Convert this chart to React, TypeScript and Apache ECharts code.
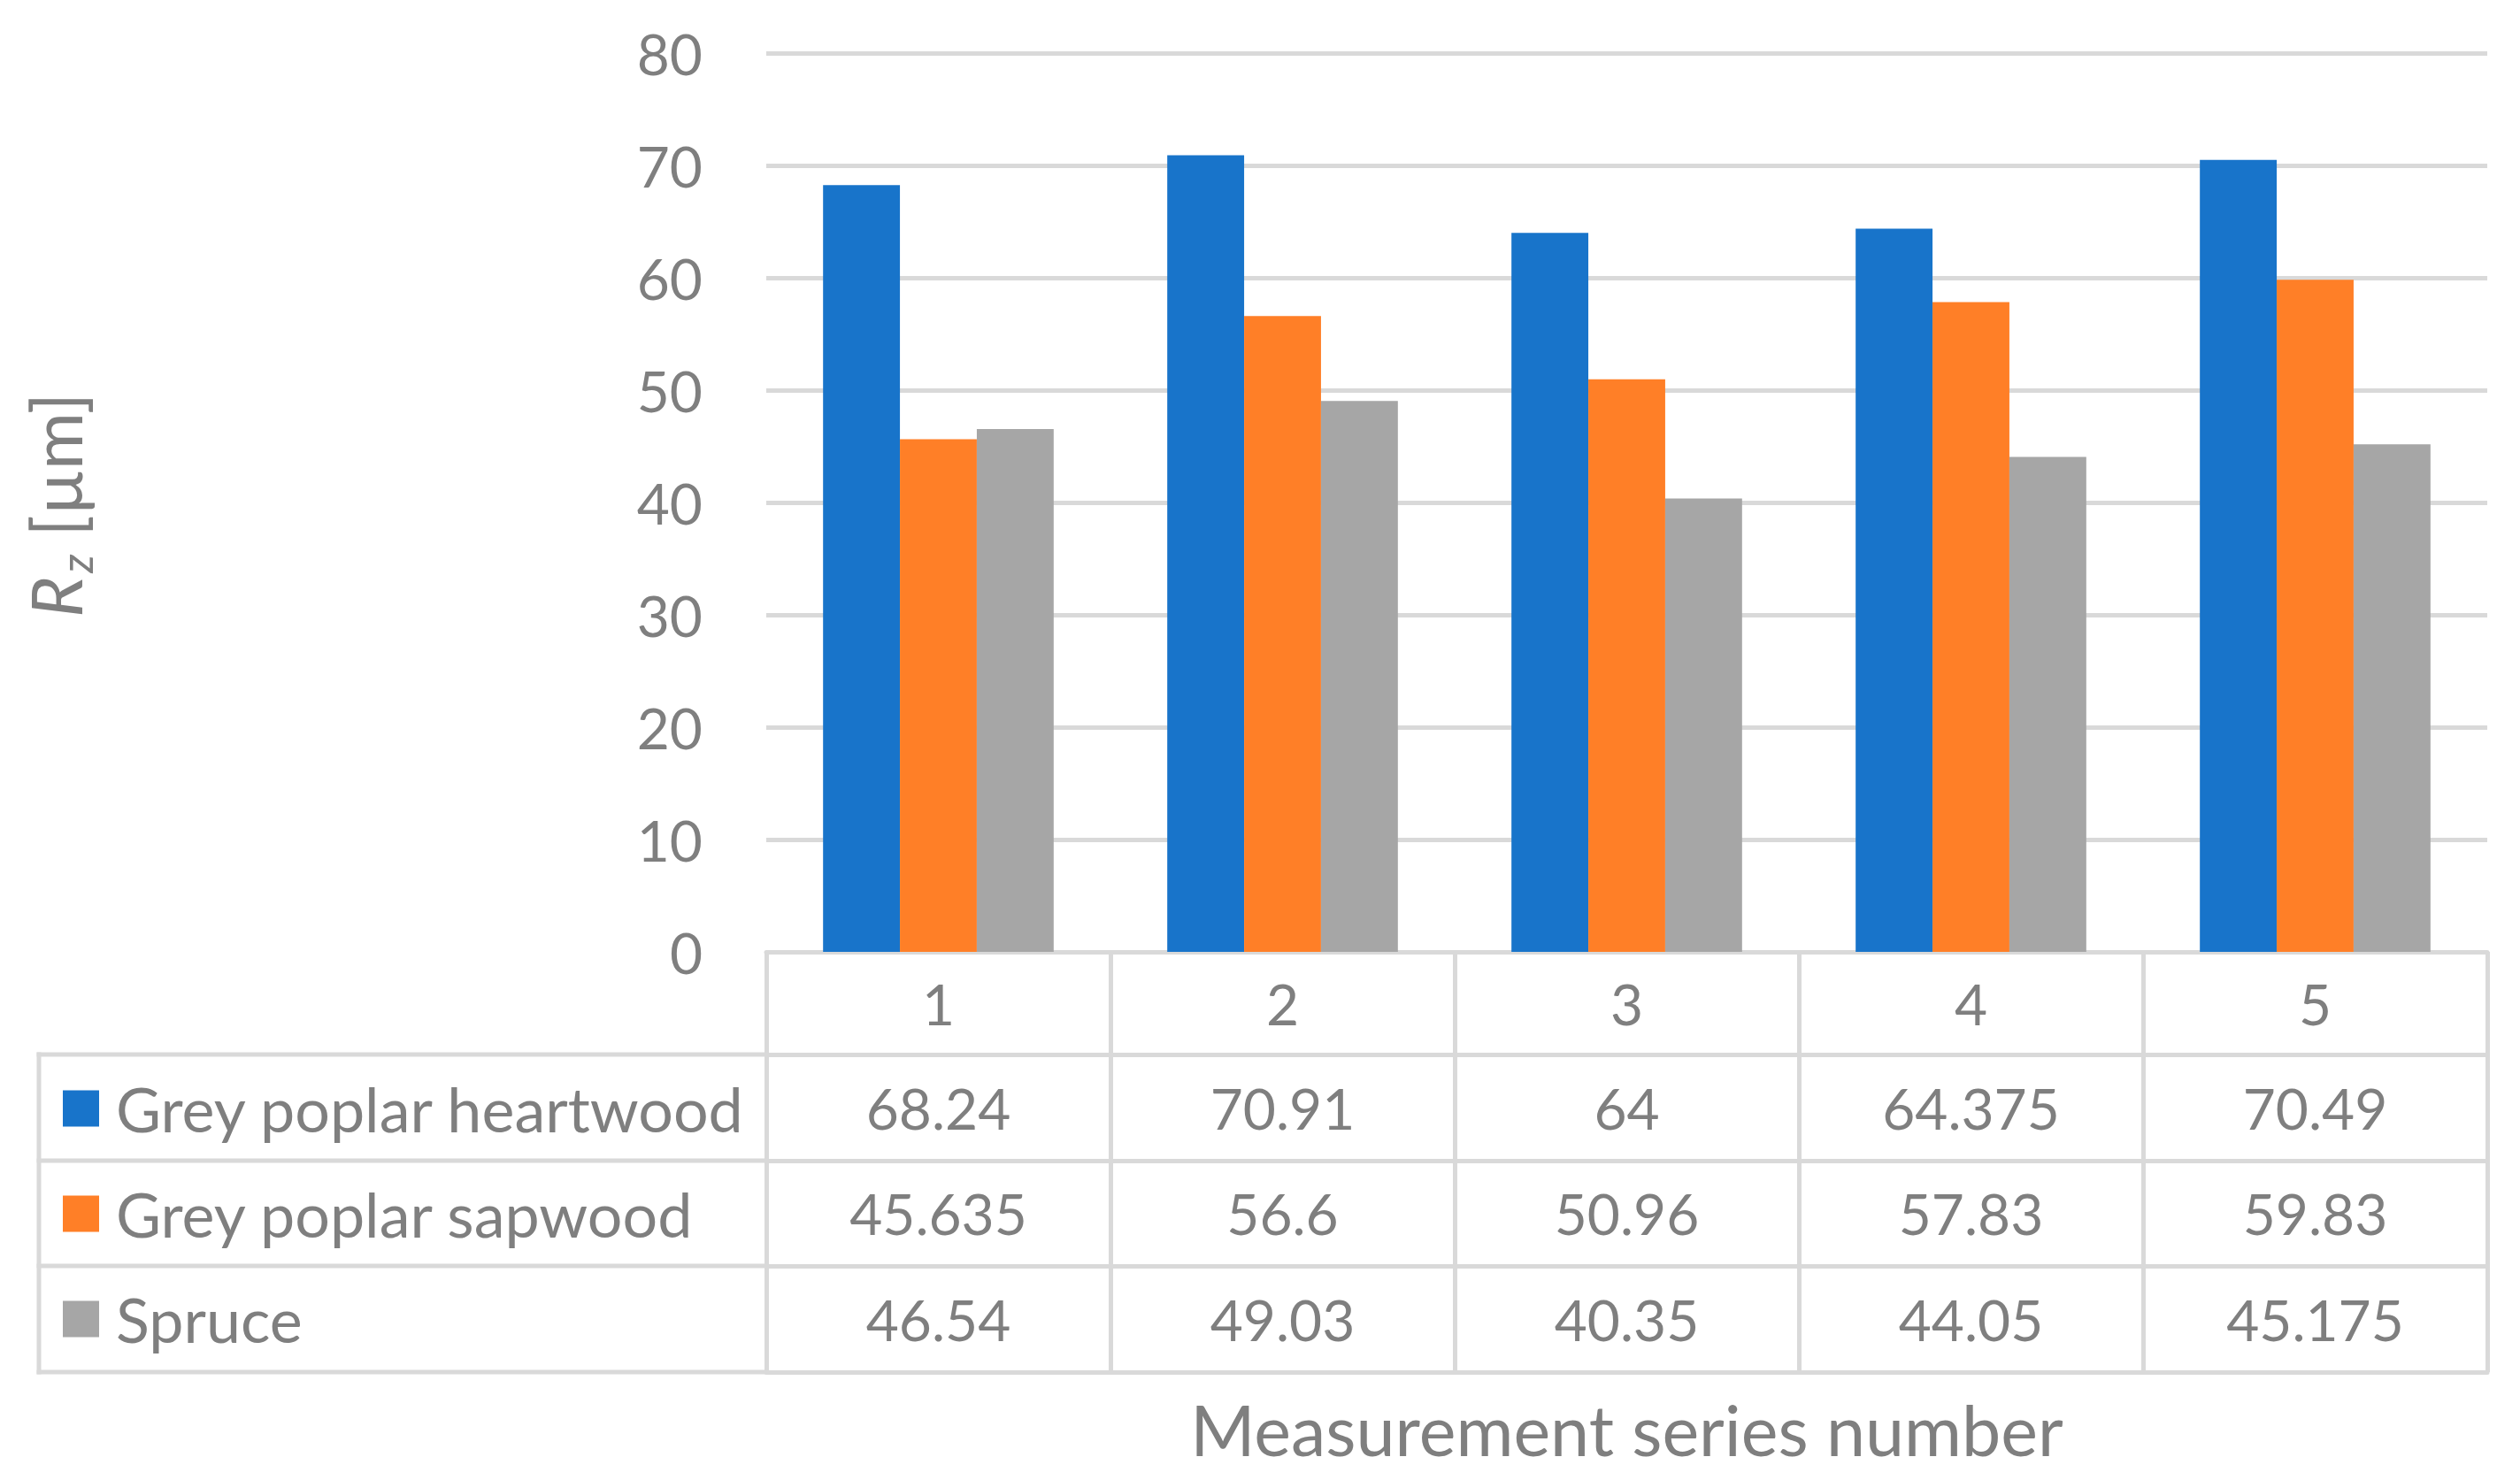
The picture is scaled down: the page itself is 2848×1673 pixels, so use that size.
import React, { useEffect, useRef } from "react";
import * as echarts from "echarts";

const categories = ["1", "2", "3", "4", "5"];
const seriesNames = ["Grey poplar heartwood", "Grey poplar sapwood", "Spruce"];
const heartwood = [68.24, 70.91, 64, 64.375, 70.49];
const sapwood = [45.635, 56.6, 50.96, 57.83, 59.83];
const spruce = [46.54, 49.03, 40.35, 44.05, 45.175];
const colors = ["#1874CA", "#FF7F27", "#A6A6A6"];
const yTicks = { min: 0, max: 80, interval: 10 };

const FONT = "Lato";
const TEXT = "#7F7F7F";
const LINE = "#D9D9D9";

export default function App() {
  const ref = useRef<HTMLDivElement>(null);
  useEffect(() => {
    if (!ref.current) return;
    const chart = echarts.init(ref.current, undefined, { renderer: "svg" });
    const H = 1673;
    const gridLeft = 866;
    const gridRight = 37;
    const gridTop = 60;
    const gridBottomY = 1076;
    const rowOffsets = [116, 236, 355, 475];
    const tableLeft = 44;
    const rowsData = [heartwood, sapwood, spruce];

    const lineStyle = { color: LINE, width: 5 };

    const xAxes: any[] = [
      {
        type: "category",
        data: categories,
        position: "bottom",
        axisLine: { show: true, lineStyle },
        axisTick: { show: true, alignWithLabel: false, interval: 0, length: rowOffsets[3], lineStyle },
        axisLabel: { fontSize: 64, color: TEXT, fontFamily: FONT, margin: 58, verticalAlign: "middle" },
        splitLine: { show: false },
      },
    ];
    rowsData.forEach((vals, r) => {
      const prev = rowOffsets[r];
      const next = rowOffsets[r + 1];
      xAxes.push({
        type: "category",
        data: categories,
        position: "bottom",
        offset: prev,
        axisLine: { show: true, lineStyle },
        axisTick: { show: false },
        axisLabel: {
          fontSize: 64,
          color: TEXT,
          fontFamily: FONT,
          margin: (next - prev) / 2,
          verticalAlign: "middle",
          interval: 0,
          formatter: (_v: string, idx: number) => String(vals[idx]),
        },
        splitLine: { show: false },
      });
    });
    xAxes.push({
      type: "category",
      data: categories,
      position: "bottom",
      offset: rowOffsets[3],
      axisLine: { show: true, lineStyle },
      axisTick: { show: false },
      axisLabel: { show: false },
      name: "Measurement series number",
      nameLocation: "middle",
      nameGap: 64,
      nameTextStyle: { fontSize: 79, color: TEXT, fontFamily: FONT, verticalAlign: "middle" },
    });

    const rowLinesY = rowOffsets.map((o) => gridBottomY + o);
    const graphics: any[] = rowLinesY.map((y) => ({
      type: "line",
      shape: { x1: tableLeft - 2.5, y1: y, x2: gridLeft, y2: y },
      style: { stroke: LINE, lineWidth: 5 },
      silent: true,
    }));
    graphics.push({
      type: "line",
      shape: { x1: tableLeft, y1: rowLinesY[0] - 2.5, x2: tableLeft, y2: rowLinesY[3] + 2.5 },
      style: { stroke: LINE, lineWidth: 5 },
      silent: true,
    });
    graphics.push({
      type: "text",
      x: 62,
      y: 571,
      rotation: Math.PI / 2,
      style: {
        text: "{r|R}{z|z}{n| [µm]}",
        align: "center",
        verticalAlign: "middle",
        fill: TEXT,
        rich: {
          r: { fontSize: 79, fontStyle: "italic", fontFamily: FONT, fill: TEXT, lineHeight: 96 },
          z: { fontSize: 50, fontStyle: "italic", fontFamily: FONT, fill: TEXT, lineHeight: 96, padding: [48, 0, 0, 4] },
          n: { fontSize: 79, fontFamily: FONT, fill: TEXT, lineHeight: 96 },
        },
      },
      silent: true,
    });

    const series = [heartwood, sapwood, spruce].map((d, i) => ({
      name: seriesNames[i],
      type: "bar",
      xAxisIndex: 0,
      data: d,
      barGap: "0%",
      barCategoryGap: "33%",
      itemStyle: { color: colors[i] },
    }));

    chart.setOption({
      animation: false,
      backgroundColor: "#FFFFFF",
      color: colors,
      grid: { left: gridLeft, right: gridRight, top: gridTop, bottom: H - gridBottomY, containLabel: false },
      legend: {
        data: seriesNames,
        orient: "vertical",
        left: 71,
        top: 1218,
        padding: 0,
        itemWidth: 41,
        itemHeight: 41,
        itemGap: 49,
        icon: "rect",
        selectedMode: false,
        textStyle: { fontSize: 70, color: TEXT, fontFamily: FONT, lineHeight: 41, padding: [0, 0, 0, 14] },
      },
      xAxis: xAxes,
      yAxis: {
        type: "value",
        min: yTicks.min,
        max: yTicks.max,
        interval: yTicks.interval,
        axisLine: { show: false },
        axisTick: { show: false },
        axisLabel: { fontSize: 64, color: TEXT, fontFamily: FONT, margin: 72 },
        splitLine: { show: true, lineStyle: { color: LINE, width: 5 } },
      },
      graphic: graphics,
      series,
    });
    return () => chart.dispose();
  }, []);
  return <div ref={ref} style={{ position: "absolute", left: 0, top: 0, width: 2848, height: 1673 }} />;
}
